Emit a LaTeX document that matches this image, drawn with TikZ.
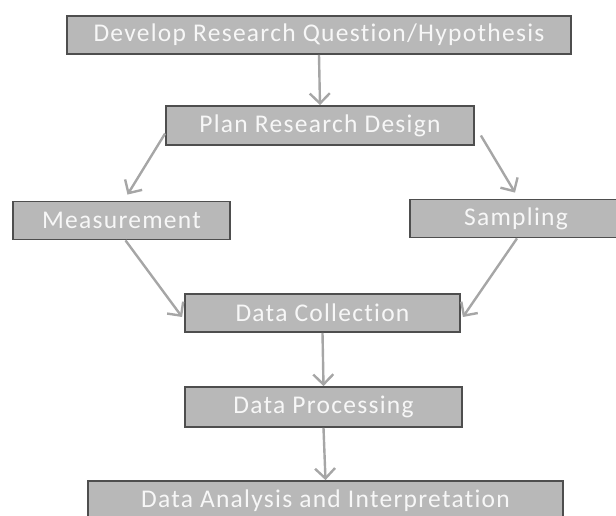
\documentclass[tikz,border=0pt]{standalone}
\usepackage{fontspec}
\setmainfont{Carlito}[LetterSpace=5,Ligatures={NoCommon}]
\usetikzlibrary{arrows.meta}
\definecolor{boxfill}{HTML}{B8B8B8}
\definecolor{boxline}{HTML}{4E4E4E}
\definecolor{boxtext}{HTML}{F7F7F7}
\definecolor{arrowc}{HTML}{A6A6A6}
\tikzset{
  stage/.style={draw=boxline, line width=1.8pt, fill=boxfill, text=boxtext,
    font=\fontsize{25.5}{28}\selectfont, inner sep=0pt, anchor=center},
  flow/.style={draw=arrowc, line width=2.4pt,
    -{Straight Barb[length=10pt,width=20pt,line width=2.4pt]}}
}
\begin{document}
\begin{tikzpicture}[x=1pt,y=-1pt]
\useasboundingbox (0,0) rectangle (616,515);
\node[stage, minimum width=504pt, minimum height=38pt] (dev) at (319,35) {Develop Research Question/Hypothesis};
\node[stage, minimum width=308pt, minimum height=39pt] (plan) at (320,125.5) {Plan Research Design};
\node[stage, minimum width=217pt, minimum height=38pt] (meas) at (121.5,220.5) {Measurement};
\node[stage, minimum width=212pt, minimum height=38pt] (samp) at (516,218.5) {Sampling};
\node[stage, minimum width=275pt, minimum height=38pt] (coll) at (322.5,313) {Data Collection};
\node[stage, minimum width=277pt, minimum height=40pt] (proc) at (323.5,407) {Data Processing};
\node[stage, minimum width=475pt, minimum height=40pt] (anal) at (325.5,501) {Data Analysis and Interpretation};
\draw[flow] (dev.south) -- (plan.north);
\draw[flow] ([yshift=-8pt]plan.west) -- ([xshift=6pt,yshift=6pt]meas.north);
\draw[flow] ([xshift=6pt,yshift=-10pt]plan.east) -- ([xshift=-1pt,yshift=6pt]samp.north);
\draw[flow] ([xshift=4pt]meas.south) -- ([xshift=-2pt,yshift=-4pt]coll.west);
\draw[flow] ([xshift=1pt]samp.south) -- ([xshift=2pt,yshift=-4pt]coll.east);
\draw[flow] (coll.south) -- (proc.north);
\draw[flow] (proc.south) -- (anal.north);
\end{tikzpicture}
\end{document}
